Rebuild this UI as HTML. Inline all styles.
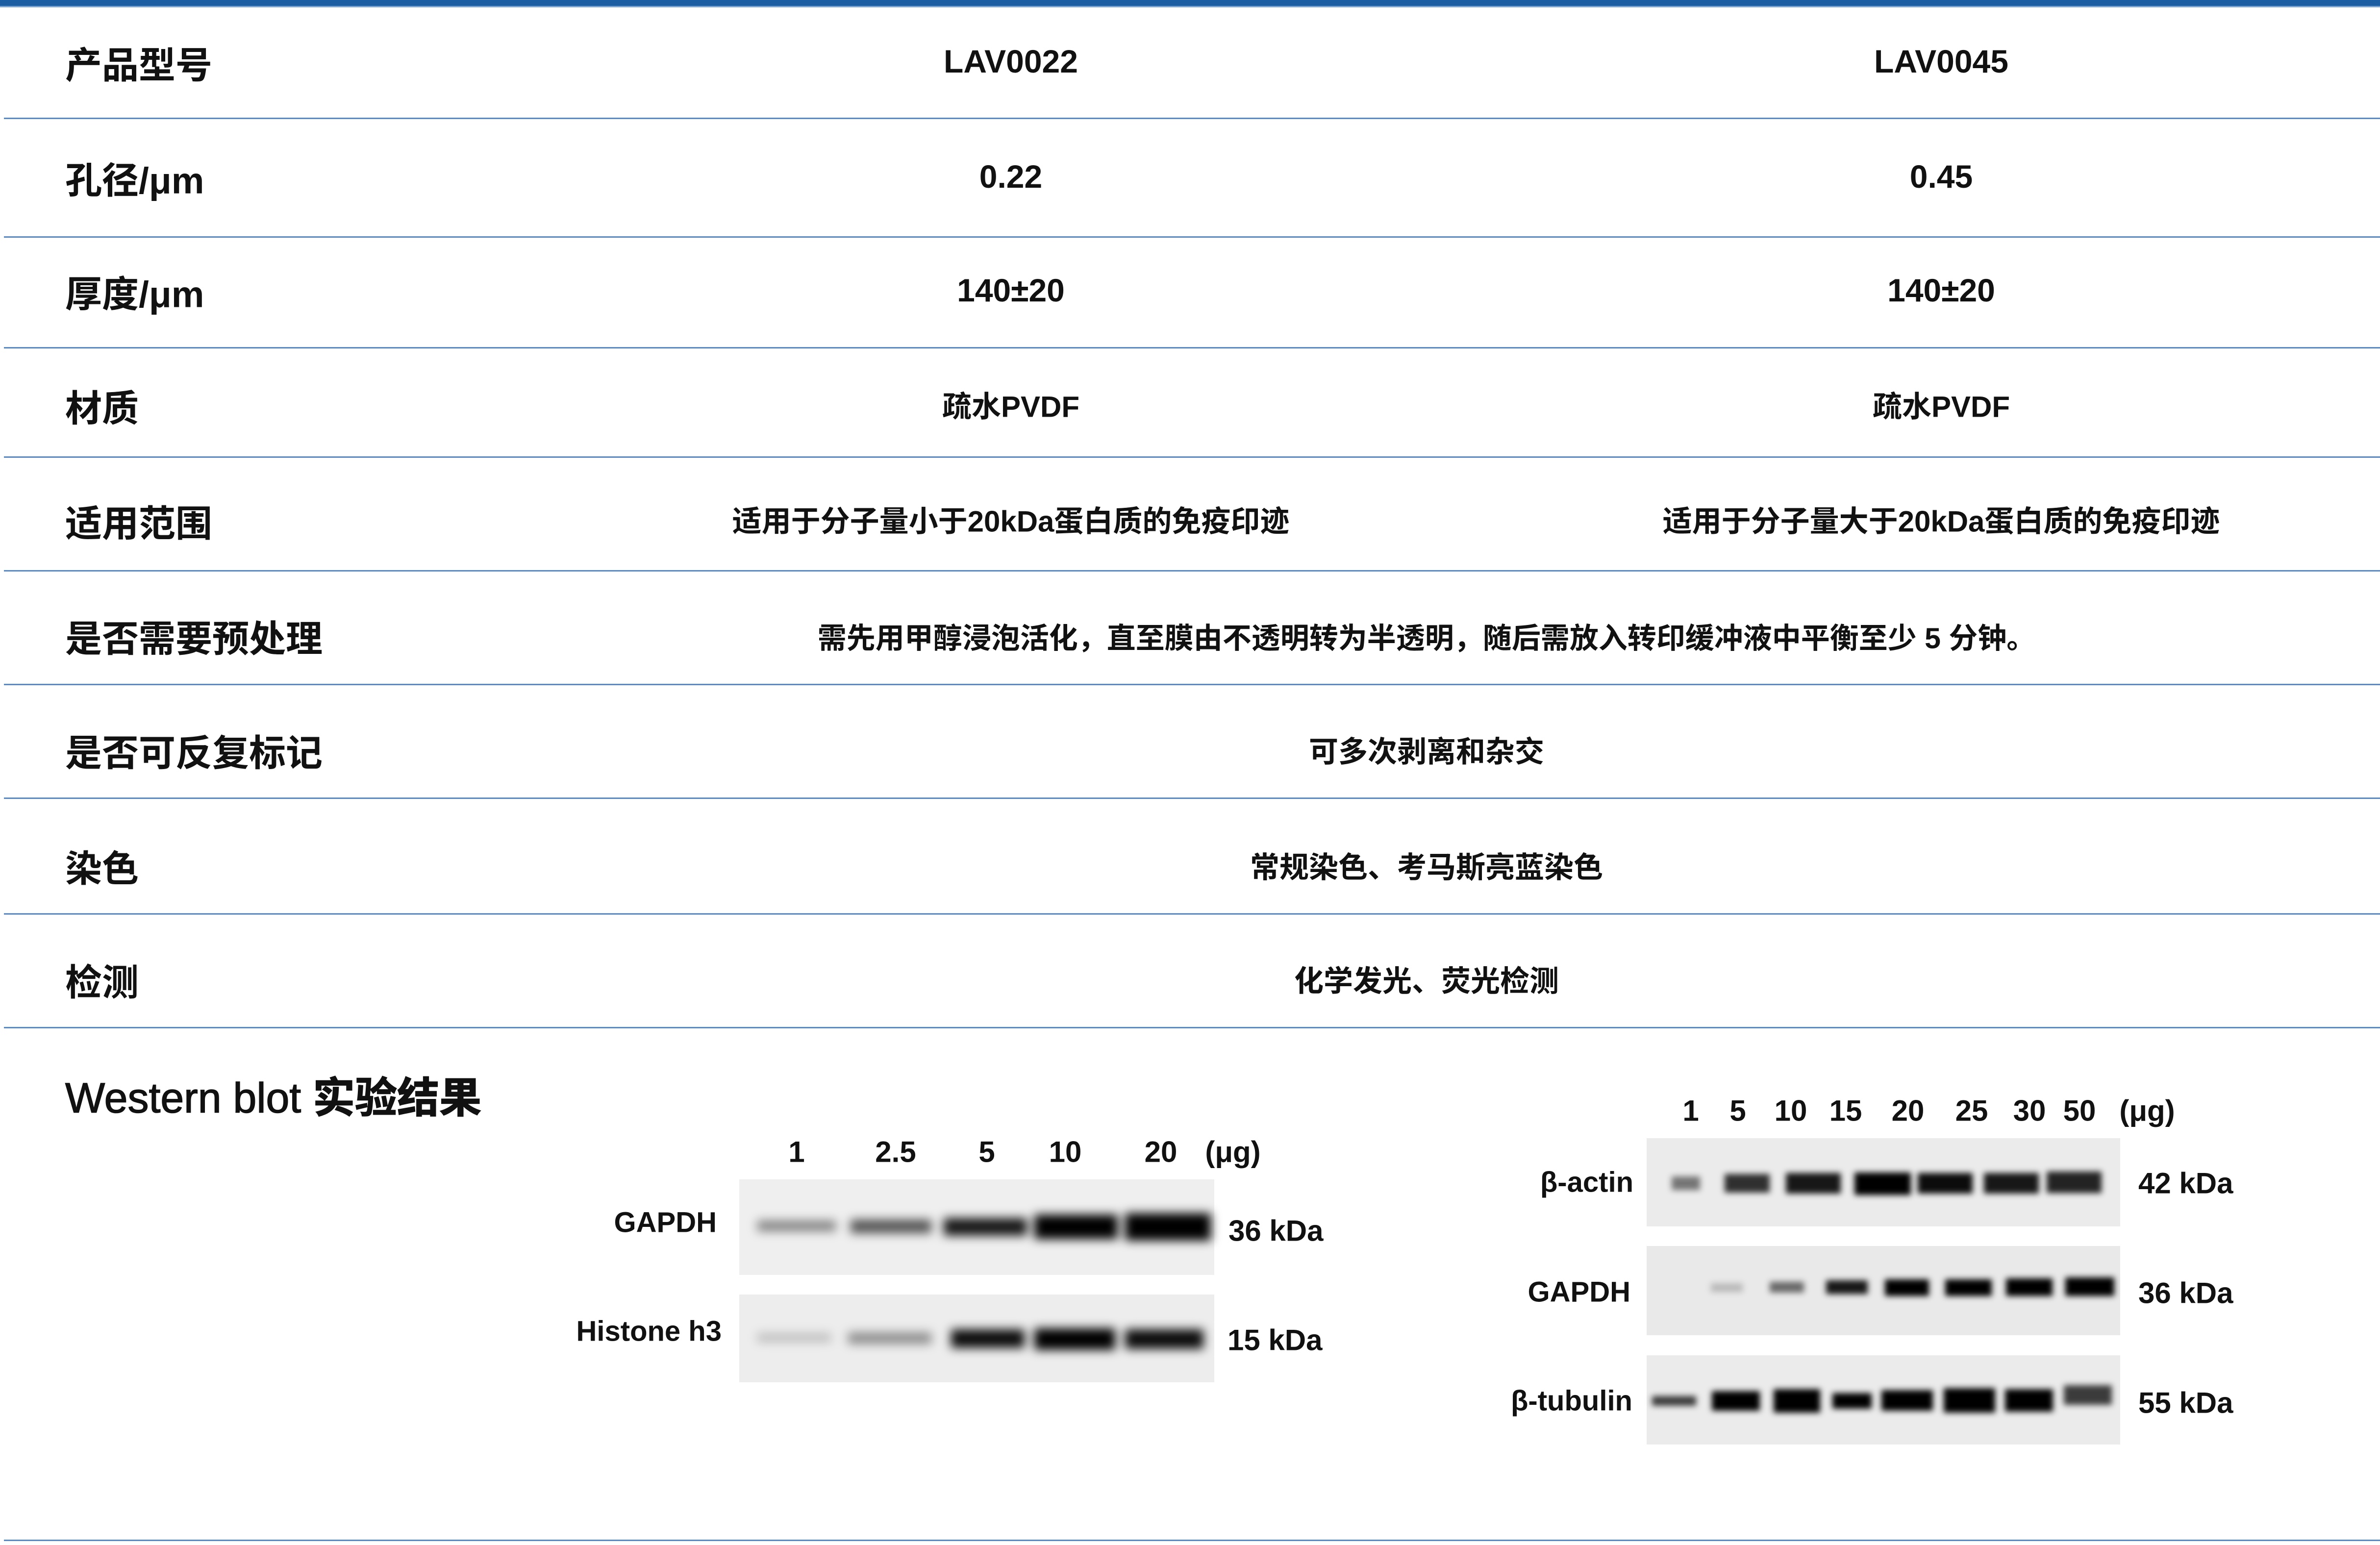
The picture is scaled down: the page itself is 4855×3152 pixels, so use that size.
<!DOCTYPE html>
<html><head><meta charset="utf-8"><style>
html,body{margin:0;padding:0;background:#fff}
body{width:4855px;height:3152px;position:relative;overflow:hidden;font-family:"Liberation Sans","Noto Sans CJK SC",sans-serif;color:#111}
.t{position:absolute;white-space:nowrap;font-weight:bold;transform:translate(-50%,-50%)}
.l{position:absolute;white-space:nowrap;font-weight:bold;transform:translateY(-50%);left:133px;font-size:75px}
.r{position:absolute;white-space:nowrap;font-weight:bold;transform:translate(-100%,-50%);font-size:58px}
.k{position:absolute;white-space:nowrap;font-weight:bold;transform:translateY(-50%);font-size:60px}
.hl{position:absolute;left:8px;right:0;height:3px;background:#5b8ac8}
.v{font-size:66px}.c{font-size:60px}
</style></head><body>
<div style="position:absolute;left:0;top:0;width:4855px;height:12px;background:#1c5ea2"></div>
<div style="position:absolute;left:0;top:12px;width:4855px;height:3px;background:#7aa3d6"></div>
<div class="hl" style="top:240px"></div>
<div class="hl" style="top:482px"></div>
<div class="hl" style="top:708px"></div>
<div class="hl" style="top:931px"></div>
<div class="hl" style="top:1163px"></div>
<div class="hl" style="top:1395px"></div>
<div class="hl" style="top:1627px"></div>
<div class="hl" style="top:1863px"></div>
<div class="hl" style="top:2095px"></div>
<div class="hl" style="top:3141px"></div>

<div class="l" style="top:127px">产品型号</div>
<div class="t v" style="left:2062px;top:125px">LAV0022</div>
<div class="t v" style="left:3960px;top:125px">LAV0045</div>
<div class="l" style="top:362px">孔径/μm</div>
<div class="t v" style="left:2062px;top:360px">0.22</div>
<div class="t v" style="left:3960px;top:360px">0.45</div>
<div class="l" style="top:594px">厚度/μm</div>
<div class="t v" style="left:2062px;top:592px">140±20</div>
<div class="t v" style="left:3960px;top:592px">140±20</div>
<div class="l" style="top:827px">材质</div>
<div class="t c" style="left:2062px;top:825px">疏水PVDF</div>
<div class="t c" style="left:3960px;top:825px">疏水PVDF</div>
<div class="l" style="top:1062px">适用范围</div>
<div class="t c" style="left:2062px;top:1059px">适用于分子量小于20kDa蛋白质的免疫印迹</div>
<div class="t c" style="left:3960px;top:1059px">适用于分子量大于20kDa蛋白质的免疫印迹</div>
<div class="l" style="top:1297px">是否需要预处理</div>
<div class="t c" style="left:2910px;top:1297px;font-size:59px">需先用甲醇浸泡活化，直至膜由不透明转为半透明，随后需放入转印缓冲液中平衡至少 5 分钟。</div>
<div class="l" style="top:1530px">是否可反复标记</div>
<div class="t c" style="left:2910px;top:1529px">可多次剥离和杂交</div>
<div class="l" style="top:1766px">染色</div>
<div class="t c" style="left:2910px;top:1765px">常规染色、考马斯亮蓝染色</div>
<div class="l" style="top:1998px">检测</div>
<div class="t c" style="left:2910px;top:1997px">化学发光、荧光检测</div>

<div class="l" style="top:2232px;font-size:86px;font-weight:normal;-webkit-text-stroke:1.5px #111">Western blot <b>实验结果</b></div>

<svg style="position:absolute;left:0;top:0" width="4855" height="3152">
<defs>
<filter id="b" x="-30%" y="-100%" width="160%" height="300%"><feGaussianBlur stdDeviation="10"/></filter>
<filter id="b2" x="-30%" y="-100%" width="160%" height="300%"><feGaussianBlur stdDeviation="6"/></filter>
</defs>
<rect x="1508" y="2406" width="969" height="195" fill="#efefef"/>
<rect x="1508" y="2641" width="969" height="179" fill="#ededed"/>
<g filter="url(#b)" fill="#000">
<rect x="1545" y="2490" width="160" height="22" opacity="0.45"/>
<rect x="1735" y="2488" width="165" height="28" opacity="0.65"/>
<rect x="1925" y="2485" width="170" height="36" opacity="0.9"/>
<rect x="2110" y="2478" width="170" height="50" opacity="1"/>
<rect x="2295" y="2475" width="175" height="56"/>
<rect x="1545" y="2720" width="150" height="18" opacity="0.2"/>
<rect x="1730" y="2718" width="170" height="24" opacity="0.4"/>
<rect x="1940" y="2712" width="150" height="38" opacity="0.95"/>
<rect x="2110" y="2710" width="165" height="44"/>
<rect x="2295" y="2712" width="160" height="40" opacity="0.95"/>
</g>
<rect x="3359" y="2322" width="966" height="180" fill="#ebebeb"/>
<rect x="3359" y="2542" width="966" height="182" fill="#e9e9e9"/>
<rect x="3359" y="2765" width="966" height="182" fill="#ebebeb"/>
<g filter="url(#b2)" fill="#000">
<rect x="3410" y="2400" width="58" height="28" opacity="0.5"/>
<rect x="3518" y="2395" width="92" height="38" opacity="0.8"/>
<rect x="3643" y="2393" width="112" height="42" opacity="0.9"/>
<rect x="3783" y="2392" width="115" height="46"/>
<rect x="3912" y="2393" width="112" height="42" opacity="0.95"/>
<rect x="4047" y="2393" width="112" height="42" opacity="0.9"/>
<rect x="4175" y="2390" width="112" height="44" opacity="0.85"/>
<rect x="3490" y="2618" width="65" height="18" opacity="0.2"/>
<rect x="3610" y="2615" width="70" height="22" opacity="0.55"/>
<rect x="3725" y="2612" width="85" height="28" opacity="0.9"/>
<rect x="3845" y="2610" width="90" height="34"/>
<rect x="3968" y="2610" width="95" height="34"/>
<rect x="4092" y="2608" width="95" height="36"/>
<rect x="4213" y="2606" width="100" height="38"/>
<rect x="3370" y="2848" width="90" height="20" opacity="0.75"/>
<rect x="3492" y="2838" width="98" height="40"/>
<rect x="3618" y="2834" width="95" height="48"/>
<rect x="3738" y="2842" width="80" height="32"/>
<rect x="3838" y="2836" width="105" height="42"/>
<rect x="3965" y="2832" width="105" height="50"/>
<rect x="4090" y="2834" width="98" height="46"/>
<rect x="4210" y="2826" width="98" height="40" opacity="0.75"/>
</g>
</svg>

<div class="t" style="left:1625px;top:2350px;font-size:60px">1</div>
<div class="t" style="left:1827px;top:2350px;font-size:60px">2.5</div>
<div class="t" style="left:2013px;top:2350px;font-size:60px">5</div>
<div class="t" style="left:2173px;top:2350px;font-size:60px">10</div>
<div class="t" style="left:2368px;top:2350px;font-size:60px">20</div>
<div class="t" style="left:2515px;top:2350px;font-size:60px">(μg)</div>
<div class="r" style="left:1462px;top:2494px">GAPDH</div>
<div class="r" style="left:1472px;top:2716px">Histone h3</div>
<div class="k" style="left:2506px;top:2511px">36 kDa</div>
<div class="k" style="left:2504px;top:2734px">15 kDa</div>

<div class="t" style="left:3449px;top:2266px;font-size:60px">1</div>
<div class="t" style="left:3545px;top:2266px;font-size:60px">5</div>
<div class="t" style="left:3653px;top:2266px;font-size:60px">10</div>
<div class="t" style="left:3765px;top:2266px;font-size:60px">15</div>
<div class="t" style="left:3892px;top:2266px;font-size:60px">20</div>
<div class="t" style="left:4022px;top:2266px;font-size:60px">25</div>
<div class="t" style="left:4140px;top:2266px;font-size:60px">30</div>
<div class="t" style="left:4242px;top:2266px;font-size:60px">50</div>
<div class="t" style="left:4380px;top:2266px;font-size:60px">(μg)</div>
<div class="r" style="left:3332px;top:2412px">β-actin</div>
<div class="r" style="left:3326px;top:2636px">GAPDH</div>
<div class="r" style="left:3330px;top:2858px">β-tubulin</div>
<div class="k" style="left:4362px;top:2414px">42 kDa</div>
<div class="k" style="left:4362px;top:2638px">36 kDa</div>
<div class="k" style="left:4362px;top:2862px">55 kDa</div>
</body></html>
